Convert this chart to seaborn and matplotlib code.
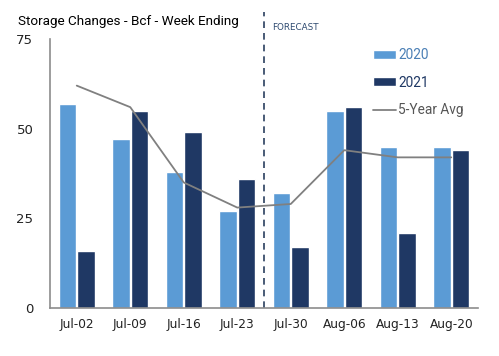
import matplotlib
matplotlib.use("Agg")
import matplotlib.pyplot as plt
import seaborn as sns
import pandas as pd
from matplotlib.patches import Patch
from matplotlib.lines import Line2D

weeks = ["Jul-02", "Jul-09", "Jul-16", "Jul-23", "Jul-30", "Aug-06", "Aug-13", "Aug-20"]
vals_2020 = [57, 47, 38, 27, 32, 55, 45, 45]
vals_2021 = [16, 55, 49, 36, 17, 56, 21, 44]
five_year_avg = [62, 56, 35, 28, 29, 44, 42, 42]
yticks = [0, 25, 50, 75]

c2020 = "#5B9BD5"
c2021 = "#1F3864"
cavg = "#808080"

sns.set_theme(style="white")
plt.rcParams["font.family"] = ["DejaVu Sans"]

df = pd.DataFrame({
    "week": weeks * 2,
    "value": vals_2020 + vals_2021,
    "year": ["2020"] * len(weeks) + ["2021"] * len(weeks),
})

fig = plt.figure(figsize=(4.99, 3.56), dpi=100)
ax = fig.add_axes([50 / 499, 1 - 308 / 356, 428 / 499, 269 / 356])

sns.barplot(data=df, x="week", y="value", hue="year", order=weeks,
            hue_order=["2020", "2021"], palette=[c2020, c2021],
            width=0.7, gap=0.06, saturation=1, ax=ax, legend=False)
sns.lineplot(x=list(range(len(weeks))), y=five_year_avg, color=cavg, lw=1.3, ax=ax)

ax.set_xlim(-0.5, len(weeks) - 0.5)
ax.set_ylim(0, 75)
ax.set_yticks(yticks)
ax.set_xlabel("")
ax.set_ylabel("")
for s in ["top", "right"]:
    ax.spines[s].set_visible(False)
for s in ["left", "bottom"]:
    ax.spines[s].set_color("#8c8c8c")
    ax.spines[s].set_linewidth(1.2)
ax.tick_params(axis="y", direction="in", length=3, color="#8c8c8c", labelsize=9.5, pad=12, labelcolor="#222222")
ax.tick_params(axis="x", length=0, labelsize=8.7, pad=7, labelcolor="#222222")

# forecast divider
ax.axvline(3.5, ymin=0, ymax=(308 - 12) / 269, color="#2a3f5f", ls=(0, (4, 3)), lw=1.2, clip_on=False)
ax.text(3.65, 75 + (39 - 28) / 269 * 75, "FORECAST", fontsize=6.3, color="#2e4a70", va="center", ha="left")

fig.text(18 / 499, 1 - 22 / 356, "Storage Changes - Bcf - Week Ending", fontsize=9.7,
         family=["Roboto", "DejaVu Sans"], color="black", va="center", ha="left")

handles = [Patch(facecolor=c2020), Patch(facecolor=c2021), Line2D([0], [0], color=cavg, lw=1.3)]
leg = ax.legend(handles, ["2020", "2021", "5-Year Avg"], loc="upper left",
                bbox_to_anchor=(323 / 428, (308 - 48) / 269), frameon=False,
                prop={"family": ["Roboto", "DejaVu Sans"], "size": 9.8},
                handlelength=1.7, handleheight=0.6, handletextpad=0.15,
                labelspacing=1.0, borderaxespad=0, borderpad=0)
leg.get_texts()[0].set_color("#4a7fb5")
leg.get_texts()[1].set_color("#1F3864")
leg.get_texts()[2].set_color("#555555")

fig.savefig("out.png", dpi=100)
